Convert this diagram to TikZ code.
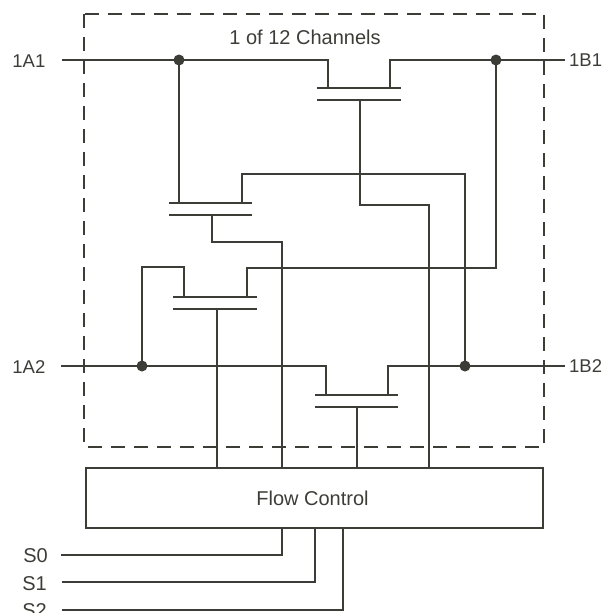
\documentclass[tikz,border=0pt]{standalone}
\usepackage{fontspec}
\setmainfont{Liberation Sans}
\definecolor{ink}{HTML}{3D3D38}
\tikzset{
  wire/.style={draw=ink,line width=1.5pt,line join=miter},
  plate/.style={draw=ink,line width=1.7pt},
  channel/.style={draw=ink,line width=2.6pt},
  dot/.style={circle,fill=ink,inner sep=0pt,minimum size=11pt},
  lbl/.style={text=ink,font=\fontsize{20}{24}\selectfont,inner sep=0pt},
  pin/.style={lbl,anchor=east},
  port/.style={text=ink,font=\fontsize{18.5}{22}\selectfont,inner sep=0pt},
  ctrl/.style={draw=ink,line width=1.5pt,minimum width=457pt,minimum height=60pt,inner sep=0pt,lbl},
}
\begin{document}
\begin{tikzpicture}[x=1pt,y=-1pt]
\useasboundingbox (0,0) rectangle (604,613);
\clip (0,0) rectangle (604,613);
% dashed channel outline
\draw[draw=ink,line width=1.5pt,dash pattern=on 14pt off 9pt] (84,14) rectangle (544,447);
\node[lbl] (title) at (305,37) {1 of 12 Channels};
% labels
\node[port,anchor=east] (a1) at (45.5,61) {1A1};
\node[port,anchor=east] (a2) at (45.5,367) {1A2};
\node[port,anchor=west] (b1) at (569,60) {1B1};
\node[port,anchor=west] (b2) at (569,366) {1B2};
\node[pin] (s0) at (48,556) {S0};
\node[pin] (s1) at (47,583.5) {S1};
\node[pin] (s2) at (47,611) {S2};
\node[ctrl] (flow) at (314.5,498) {\raisebox{-1pt}{Flow Control\hspace{4pt}}};
% free ends
\coordinate (a1e) at (62,60);
\coordinate (a2e) at (61,366);
\coordinate (b1e) at (565,60);
\coordinate (b2e) at (565,366);
\coordinate (s0e) at (61,555);
\coordinate (s1e) at (62,582);
\coordinate (s2e) at (62,610);
% junctions
\node[dot] (d1) at (179,60) {};
\node[dot] (d2) at (496,60) {};
\node[dot] (d3) at (142,366) {};
\node[dot] (d4) at (465,366) {};
% transistor plates
\foreach \n/\l/\r/\ya/\yb/\ca/\cb in {t/317/401/88/100/328/390,u/169/252/203/215/179/242,v/173/257/297/309/184/247,w/315/398/395/407/326/388}{
  \coordinate (\n a) at (\l,\ya);
  \coordinate (\n b) at (\r,\ya);
  \coordinate (\n c) at (\l,\yb);
  \coordinate (\n d) at (\r,\yb);
  \coordinate (\n s) at (\ca,\ya);
  \coordinate (\n e) at (\cb,\ya);
  \draw[plate] (\n a) -- (\n b);
  \draw[plate] (\n c) -- (\n d);
  \draw[channel] (\n s) -- (\n e);
}
% signal wires
\draw[wire] (a1e) -- (d1.center) -- (d1 -| ts) -- (ts);
\draw[wire] (b1e) -- (d2.center) -- (d2 -| te) -- (te);
\draw[wire] (d1.center) -- (d1 |- ua);
\draw[wire] (a2e) -- (d3.center) -- (d3 -| ws) -- (ws);
\draw[wire] (b2e) -- (d4.center) -- (d4 -| we) -- (we);
% cross-connections
\coordinate (k1) at (242,174);
\draw[wire] (ue) -- (k1) -- (k1 -| d4) -- (d4.center);
\coordinate (k2) at (184,267);
\draw[wire] (vs) -- (k2) -- (k2 -| d3) -- (d3.center);
\coordinate (k3) at (247,268);
\draw[wire] (ve) -- (k3) -- (k3 -| d2) -- (d2.center);
% gates to flow control
\coordinate (g1) at (360,100);
\coordinate (g1b) at (360,205);
\coordinate (g1c) at (429,205);
\draw[wire] (g1) -- (g1b) -- (g1c) -- (g1c |- flow.north);
\coordinate (g2) at (212,215);
\coordinate (g2b) at (212,242);
\coordinate (g2c) at (282,242);
\draw[wire] (g2) -- (g2b) -- (g2c) -- (g2c |- flow.north);
\coordinate (g3) at (217,309);
\draw[wire] (g3) -- (g3 |- flow.north);
\coordinate (g4) at (357,407);
\draw[wire] (g4) -- (g4 |- flow.north);
% select lines
\coordinate (c0) at (282,555);
\coordinate (c1) at (315,582);
\coordinate (c2) at (343,610);
\draw[wire] (s0e) -- (c0) -- (c0 |- flow.south);
\draw[wire] (s1e) -- (c1) -- (c1 |- flow.south);
\draw[wire] (s2e) -- (c2) -- (c2 |- flow.south);
\end{tikzpicture}
\end{document}
